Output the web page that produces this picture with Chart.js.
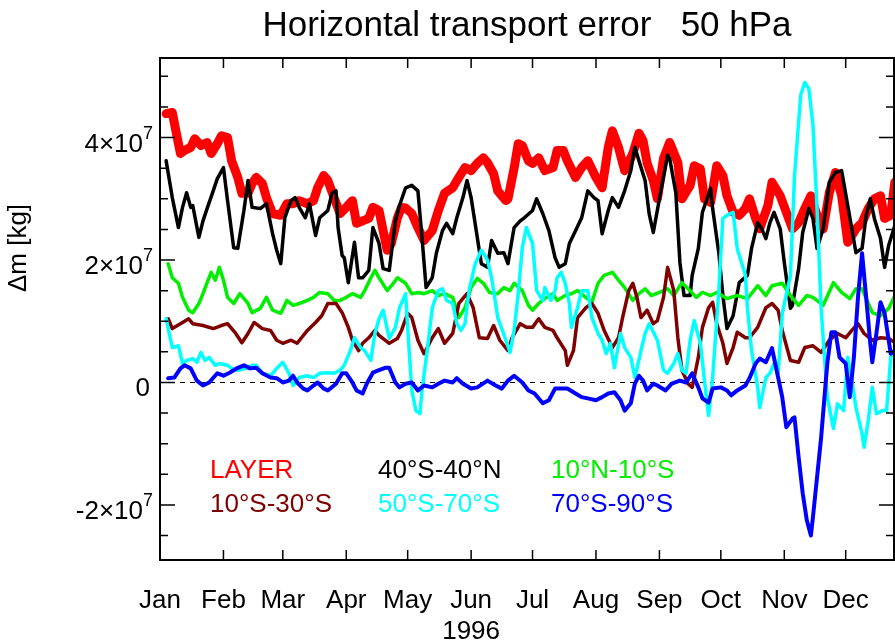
<!DOCTYPE html>
<html>
<head>
<meta charset="utf-8">
<title>Horizontal transport error 50 hPa</title>
<script src="https://cdn.jsdelivr.net/npm/chart.js@4.4.1/dist/chart.umd.min.js"></script>
<style>
  html, body { margin: 0; padding: 0; background: #fff; }
  #wrap { width: 895px; height: 641px; position: relative; }
</style>
</head>
<body>
<div id="wrap"><canvas id="chart"></canvas></div>
<script>
// x = day of 1996 (0 = 1 Jan), y = mass error in units of 1e7 kg
const monthLabels = ['Jan', 'Feb', 'Mar', 'Apr', 'May', 'Jun', 'Jul', 'Aug', 'Sep', 'Oct', 'Nov', 'Dec'];
const monthStarts = [0, 31, 60, 91, 121, 152, 182, 213, 244, 274, 305, 335];
const yearLabel = '1996';
const yearUnder = 'Jun';
const yTicks = [-2, 0, 2, 4];
const yExponent = '7';
const titleText = 'Horizontal transport error   50 hPa';
const yTitle = '\u0394m [kg]';

const layer = [[3,4.39],[6,4.41],[8,4.07],[10,3.74],[12,3.79],[15,3.84],[17,3.98],[20,3.87],[23,3.92],[25,3.74],[28,3.90],[30,4.03],[33,4.00],[35,3.62],[38,3.35],[40,3.09],[43,3.09],[45,3.25],[47,3.35],[50,3.25],[52,3.02],[55,2.76],[59,2.73],[62,2.92],[65,2.92],[68,2.97],[72,2.92],[75,2.97],[77,3.18],[80,3.38],[82,3.30],[85,3.02],[88,2.76],[91,2.86],[94,2.97],[96,2.60],[99,2.64],[102,2.68],[104,2.86],[107,2.81],[109,2.48],[111,2.16],[113,2.27],[116,2.69],[118,2.86],[120,2.85],[123,2.76],[126,2.53],[129,2.32],[133,2.48],[136,2.81],[139,3.09],[143,3.18],[146,3.35],[149,3.51],[152,3.46],[155,3.58],[158,3.67],[160,3.59],[163,3.41],[165,3.13],[169,2.97],[170,3.00],[173,3.50],[175,3.90],[177,3.87],[180,3.62],[182,3.58],[185,3.67],[188,3.46],[192,3.51],[194,3.79],[197,3.79],[199,3.62],[203,3.35],[206,3.51],[209,3.62],[213,3.35],[216,3.18],[219,3.84],[221,4.11],[224,3.84],[227,3.46],[231,3.74],[234,4.07],[236,3.95],[238,3.58],[241,3.30],[243,3.00],[246,3.66],[249,3.92],[253,3.59],[255,3.00],[259,3.22],[261,3.54],[264,3.49],[266,3.00],[269,2.94],[272,3.54],[275,3.38],[277,3.05],[280,2.78],[283,2.73],[286,2.84],[288,3.00],[291,2.68],[293,2.51],[297,2.89],[299,3.27],[303,3.05],[306,2.78],[309,2.51],[312,2.61],[315,2.84],[318,3.05],[321,2.73],[324,2.51],[327,3.10],[330,3.43],[333,3.05],[336,2.29],[340,2.51],[343,2.61],[346,2.84],[349,3.00],[352,3.05],[354,2.68],[357,2.73],[359,3.27]];

const s40n40 = [[3,3.62],[6,3.02],[9,2.53],[11,2.86],[13,3.10],[15,2.86],[16,2.89],[19,2.37],[21,2.64],[23,2.84],[26,3.13],[28,3.33],[31,3.51],[33,2.97],[36,2.20],[38,2.19],[41,2.81],[43,3.30],[45,2.86],[49,2.84],[52,2.92],[55,2.43],[57,2.16],[59,1.94],[61,2.69],[64,2.97],[66,3.02],[68,2.86],[71,2.69],[73,2.92],[76,2.40],[78,2.69],[82,2.81],[84,3.09],[86,3.13],[87,2.53],[89,2.07],[90,2.04],[92,1.63],[95,2.29],[97,1.71],[99,1.71],[102,1.83],[104,2.53],[107,2.27],[109,1.86],[112,1.83],[115,2.64],[117,2.89],[120,3.18],[123,3.22],[126,3.13],[128,2.37],[130,1.55],[133,1.71],[135,2.11],[138,2.48],[140,2.60],[143,2.43],[145,2.69],[148,3.02],[150,3.30],[152,3.02],[155,2.37],[157,1.94],[160,1.88],[162,2.32],[165,2.11],[168,2.12],[170,1.94],[173,2.53],[176,2.64],[178,2.69],[182,2.81],[184,3.00],[187,2.76],[190,2.48],[193,2.04],[195,1.88],[198,1.94],[200,2.27],[203,2.48],[206,2.69],[209,3.13],[212,3.02],[214,2.97],[216,2.43],[219,2.81],[221,3.02],[224,2.86],[227,3.13],[230,3.46],[232,3.84],[235,3.51],[237,3.30],[239,2.75],[241,2.45],[244,3.00],[248,3.71],[249,3.66],[252,3.10],[254,1.96],[256,1.42],[259,1.42],[260,1.75],[263,2.19],[265,2.78],[269,3.17],[270,2.84],[273,2.12],[275,1.42],[277,0.88],[280,1.09],[283,1.63],[287,1.75],[289,2.19],[292,2.61],[294,2.51],[296,2.35],[298,2.61],[300,2.78],[303,2.51],[305,1.96],[308,1.21],[309,1.26],[312,1.86],[314,2.45],[317,2.84],[319,2.68],[321,2.19],[324,2.51],[327,3.27],[330,3.43],[333,3.46],[336,2.89],[338,2.51],[340,2.12],[343,2.19],[345,2.73],[347,3.00],[349,2.68],[352,2.35],[354,1.88],[356,2.24],[359,2.56]];

const n10s10 = [[4,1.94],[6,1.71],[9,1.62],[11,1.39],[14,1.18],[16,1.14],[19,1.29],[21,1.45],[23,1.63],[25,1.80],[27,1.67],[29,1.88],[31,1.67],[33,1.39],[36,1.29],[39,1.45],[43,1.29],[45,1.14],[49,1.21],[52,1.39],[55,1.18],[59,1.13],[62,1.34],[65,1.26],[68,1.29],[72,1.34],[75,1.39],[78,1.47],[82,1.45],[85,1.34],[88,1.34],[91,1.39],[94,1.45],[98,1.39],[100,1.50],[103,1.71],[105,1.83],[107,1.71],[111,1.50],[114,1.62],[116,1.71],[120,1.62],[123,1.45],[126,1.47],[129,1.45],[133,1.50],[136,1.42],[139,1.45],[143,1.39],[146,1.06],[149,1.22],[152,1.55],[155,1.70],[158,1.62],[161,1.47],[165,1.45],[168,1.55],[171,1.50],[173,1.62],[177,1.50],[180,1.26],[182,1.18],[185,1.29],[188,1.37],[192,1.45],[194,1.34],[198,1.42],[201,1.45],[204,1.50],[208,1.39],[211,1.31],[214,1.62],[217,1.75],[221,1.80],[224,1.67],[227,1.55],[231,1.34],[234,1.45],[237,1.53],[240,1.42],[244,1.47],[248,1.53],[251,1.42],[255,1.63],[259,1.50],[262,1.39],[265,1.47],[269,1.42],[272,1.47],[277,1.37],[282,1.42],[287,1.37],[292,1.58],[296,1.42],[299,1.58],[304,1.62],[308,1.42],[312,1.26],[316,1.42],[319,1.39],[324,1.26],[329,1.63],[333,1.47],[337,1.37],[340,1.53],[343,1.53],[348,1.14],[352,1.09],[356,1.21],[359,1.42]];

const s10s30 = [[4,1.04],[6,0.88],[10,0.96],[14,1.04],[16,0.96],[21,0.93],[26,0.88],[30,0.93],[33,0.96],[37,0.80],[40,0.65],[43,0.80],[46,0.98],[50,0.88],[54,0.85],[57,0.69],[60,0.64],[64,0.69],[67,0.64],[72,0.85],[76,0.98],[79,1.09],[82,1.29],[86,1.29],[89,1.14],[92,0.90],[94,0.69],[97,0.52],[99,0.64],[102,0.73],[105,0.85],[107,0.77],[112,0.64],[116,0.72],[118,0.85],[121,1.13],[123,1.06],[126,0.69],[129,0.47],[133,0.73],[136,0.88],[139,0.64],[143,0.80],[146,1.29],[150,1.45],[153,1.22],[156,0.73],[160,0.72],[163,0.93],[166,0.69],[170,0.52],[172,0.73],[176,0.96],[179,0.90],[182,0.90],[185,1.04],[188,0.90],[192,0.85],[194,0.73],[198,0.52],[199,0.28],[202,0.52],[204,1.06],[208,1.22],[211,1.29],[214,1.13],[217,0.85],[221,0.57],[224,0.73],[226,1.06],[229,1.50],[231,1.62],[233,1.39],[235,1.06],[238,1.18],[241,0.96],[243,1.01],[246,1.39],[248,1.88],[251,1.50],[253,0.73],[255,0.20],[258,-0.02],[260,-0.08],[263,0.41],[265,0.90],[268,1.22],[270,1.31],[272,0.96],[275,0.64],[277,0.31],[280,0.57],[282,0.82],[286,0.73],[288,0.73],[292,0.90],[296,1.22],[299,1.29],[302,1.18],[304,0.85],[308,0.36],[312,0.33],[315,0.57],[319,0.60],[323,0.49],[327,0.69],[331,0.80],[335,0.73],[338,0.85],[341,0.96],[344,0.80],[348,0.69],[352,0.73],[356,0.72],[359,0.65]];

const s50s70 = [[3,1.04],[6,0.57],[9,0.60],[11,0.31],[13,0.36],[16,0.39],[18,0.33],[20,0.49],[22,0.36],[24,0.41],[27,0.28],[29,0.31],[33,0.28],[35,0.23],[38,0.20],[42,0.23],[45,0.28],[47,0.28],[50,0.15],[54,0.11],[57,0.23],[60,0.33],[63,0.15],[65,-0.05],[68,0.08],[72,0.11],[75,0.08],[78,0.15],[82,0.16],[85,0.15],[88,0.20],[90,0.28],[93,0.52],[95,0.73],[98,0.57],[100,0.52],[103,0.36],[105,0.80],[107,1.04],[109,1.18],[112,0.72],[115,0.90],[117,1.22],[120,1.45],[121,0.90],[123,-0.13],[125,-0.46],[127,-0.51],[128,-0.13],[131,0.64],[133,1.22],[136,1.50],[138,1.53],[140,1.34],[143,1.29],[145,0.96],[147,0.85],[149,0.96],[151,1.50],[154,1.94],[157,2.16],[160,2.00],[162,1.71],[165,1.06],[169,0.69],[171,0.49],[173,0.85],[175,1.45],[177,2.20],[179,2.53],[182,2.27],[184,1.50],[187,1.34],[188,1.55],[191,1.34],[193,1.50],[194,1.71],[196,1.80],[198,1.62],[200,1.29],[201,0.90],[204,1.22],[206,1.50],[209,1.50],[211,1.06],[214,0.80],[216,0.69],[218,0.47],[220,0.64],[222,0.24],[225,0.80],[227,0.57],[230,0.41],[232,0.08],[235,0.52],[237,0.80],[239,0.96],[243,0.69],[246,0.20],[248,0.15],[251,0.31],[253,0.47],[255,0.20],[257,0.15],[259,0.69],[261,1.01],[264,0.64],[266,0.03],[268,-0.54],[270,0.08],[273,1.50],[275,2.68],[277,2.73],[280,2.78],[282,2.19],[286,1.75],[287,1.21],[289,0.52],[292,-0.08],[293,-0.41],[296,0.08],[298,0.15],[300,0.31],[302,0.15],[304,1.13],[308,1.75],[310,3.38],[313,4.69],[315,4.90],[317,4.80],[319,4.20],[321,2.84],[323,1.20],[326,-0.24],[329,-0.75],[331,-0.35],[334,-0.46],[336,0.41],[338,0.03],[340,-0.41],[343,-0.84],[344,-1.06],[346,-0.62],[348,-0.08],[350,-0.51],[353,-0.46],[355,-0.46],[357,0.41],[359,0.52]];

const s70s90 = [[4,0.07],[7,0.08],[10,0.23],[12,0.28],[15,0.23],[18,0.03],[21,-0.05],[24,0.00],[28,0.15],[31,0.11],[34,0.16],[38,0.24],[41,0.28],[44,0.23],[47,0.24],[50,0.15],[54,0.08],[57,0.07],[60,0.00],[63,0.03],[65,0.11],[67,0.00],[70,-0.10],[72,-0.13],[75,-0.05],[77,0.00],[80,-0.10],[82,-0.13],[86,-0.02],[89,0.15],[91,0.15],[94,0.00],[96,-0.13],[99,-0.18],[101,-0.02],[104,0.16],[107,0.20],[110,0.24],[112,0.24],[115,0.00],[117,-0.08],[120,-0.02],[123,0.00],[126,-0.13],[129,-0.05],[133,-0.08],[136,-0.02],[139,0.03],[143,0.00],[145,0.07],[148,-0.02],[152,-0.10],[155,-0.08],[160,0.03],[164,-0.05],[167,-0.10],[170,0.03],[173,0.11],[177,0.00],[180,-0.13],[183,-0.18],[187,-0.34],[190,-0.29],[193,-0.10],[196,-0.10],[199,-0.10],[203,-0.18],[206,-0.24],[209,-0.26],[213,-0.29],[216,-0.24],[219,-0.18],[222,-0.16],[225,-0.29],[227,-0.46],[230,-0.34],[232,-0.02],[234,0.11],[236,0.03],[238,-0.13],[241,-0.02],[243,-0.05],[247,-0.13],[250,-0.02],[254,0.03],[257,0.00],[260,0.15],[263,-0.08],[265,-0.26],[268,-0.33],[270,-0.10],[274,-0.08],[277,-0.13],[279,-0.21],[282,-0.13],[286,-0.05],[288,0.07],[291,0.31],[293,0.39],[296,0.33],[299,0.56],[301,0.24],[304,-0.24],[306,-0.73],[309,-0.59],[310,-0.57],[312,-1.22],[314,-1.81],[316,-2.25],[318,-2.50],[319,-2.20],[321,-1.55],[323,-0.90],[326,0.31],[328,0.82],[330,0.82],[332,0.41],[335,0.31],[337,-0.24],[339,0.41],[341,1.39],[343,2.11],[345,1.39],[347,0.64],[348,0.33],[350,0.80],[352,1.31],[354,1.13],[357,0.47],[359,0.52]];

const FONT = "'Liberation Sans', Arial, Helvetica, sans-serif";

function series(label, pts, color, width, order) {
  return {
    label,
    data: pts.map(p => ({ x: p[0], y: p[1] })),
    borderColor: color,
    backgroundColor: color,
    borderWidth: width,
    pointRadius: 0,
    tension: 0,
    borderJoinStyle: 'round',
    borderCapStyle: 'round',
    order,
  };
}

// legend grid is filled row by row, three per row
const datasets = [
  series('LAYER', layer, '#ff0000', 9, 6),
  series('40°S-40°N', s40n40, '#000000', 3.5, 5),
  series('10°N-10°S', n10s10, '#00ee00', 3.5, 4),
  series('10°S-30°S', s10s30, '#800000', 3.5, 3),
  series('50°S-70°S', s50s70, '#00ffff', 3.5, 2),
  series('70°S-90°S', s70s90, '#0000ff', 4, 1),
];

const axesPlugin = {
  id: 'axesFrame',
  beforeDatasetsDraw(chart) {
    const { ctx, chartArea: a, scales: { y } } = chart;
    const y0 = Math.round(y.getPixelForValue(0)) + 0.5;
    ctx.save();
    ctx.strokeStyle = '#000';
    ctx.lineWidth = 1;
    ctx.setLineDash([5, 5]);
    ctx.beginPath();
    ctx.moveTo(a.left, y0);
    ctx.lineTo(a.right, y0);
    ctx.stroke();
    ctx.restore();
  },
  afterDatasetsDraw(chart) {
    const { ctx, chartArea: a, scales: { x, y } } = chart;
    ctx.save();
    ctx.strokeStyle = '#000';
    ctx.lineWidth = 2;
    ctx.strokeRect(a.left, a.top, a.right - a.left, a.bottom - a.top);

    ctx.lineWidth = 1.5;
    ctx.beginPath();
    monthStarts.forEach(d => {
      const px = x.getPixelForValue(d);
      ctx.moveTo(px, a.bottom); ctx.lineTo(px, a.bottom - 10);
      ctx.moveTo(px, a.top); ctx.lineTo(px, a.top + 10);
    });
    // minor ticks every 0.5e7, major every 2e7
    for (let k = Math.ceil(y.min / 0.5); k <= Math.floor(y.max / 0.5); k++) {
      const py = y.getPixelForValue(k * 0.5);
      const len = k % 4 === 0 ? 15 : 8;
      ctx.moveTo(a.left, py); ctx.lineTo(a.left + len, py);
      ctx.moveTo(a.right, py); ctx.lineTo(a.right - len, py);
    }
    ctx.stroke();
    ctx.restore();
  },
  afterDraw(chart) {
    const { ctx, chartArea: a, scales: { y } } = chart;

    // y tick labels: mantissa x 10 with raised exponent
    ctx.save();
    ctx.fillStyle = '#000';
    ctx.textBaseline = 'alphabetic';
    yTicks.forEach(v => {
      const py = y.getPixelForValue(v);
      ctx.font = '26px ' + FONT;
      ctx.textAlign = 'right';
      if (v === 0) {
        ctx.fillText('0', a.left - 10, py + 14);
        return;
      }
      ctx.fillText(v + '×10', a.left - 17, py + 14);
      ctx.font = '18px ' + FONT;
      ctx.textAlign = 'left';
      ctx.fillText(yExponent, a.left - 17, py + 1);
    });
    ctx.restore();

    // y axis title
    ctx.save();
    ctx.font = '26px ' + FONT;
    ctx.fillStyle = '#000';
    ctx.textAlign = 'center';
    ctx.textBaseline = 'middle';
    ctx.translate(19, 248);
    ctx.rotate(-Math.PI / 2);
    ctx.fillText(yTitle, 0, 0);
    ctx.restore();

    // legend text inside the plot
    ctx.save();
    ctx.font = '26px ' + FONT;
    ctx.textAlign = 'left';
    ctx.textBaseline = 'middle';
    const colX = [210, 378, 551];
    const rowY = [471, 505];
    chart.data.datasets.forEach((ds, i) => {
      ctx.fillStyle = ds.borderColor;
      ctx.fillText(ds.label, colX[i % 3], rowY[Math.floor(i / 3)]);
    });
    ctx.restore();
  }
};

new Chart(document.getElementById('chart'), {
  type: 'line',
  data: { datasets },
  options: {
    responsive: true,
    maintainAspectRatio: false,
    animation: false,
    layout: { padding: { left: 0, right: 1, top: 0, bottom: 0 } },
    plugins: {
      legend: { display: false },
      tooltip: { enabled: false },
      title: {
        display: true,
        text: titleText,
        fullSize: false,
        color: '#000',
        font: { family: FONT, size: 35, weight: 'normal' },
        padding: { top: 5, bottom: 11 },
      },
    },
    scales: {
      x: {
        type: 'linear',
        min: 0,
        max: 358.6,
        afterBuildTicks: s => { s.ticks = monthStarts.map(v => ({ value: v })); },
        afterFit: s => { s.height = 81; },
        grid: { display: false, drawTicks: false },
        border: { display: false },
        ticks: {
          autoSkip: false,
          maxRotation: 0,
          padding: 25,
          color: '#000',
          font: { family: FONT, size: 26 },
          callback: v => {
            const m = monthLabels[monthStarts.indexOf(v)];
            return m === yearUnder ? [m, yearLabel] : m;
          },
        },
      },
      y: {
        type: 'linear',
        min: -2.9,
        max: 5.3,
        afterBuildTicks: s => { s.ticks = yTicks.map(v => ({ value: v })); },
        afterFit: s => { s.width = 160; },
        grid: { display: false, drawTicks: false },
        border: { display: false },
        ticks: { display: false },
      },
    },
  },
  plugins: [axesPlugin],
});
</script>
</body>
</html>
